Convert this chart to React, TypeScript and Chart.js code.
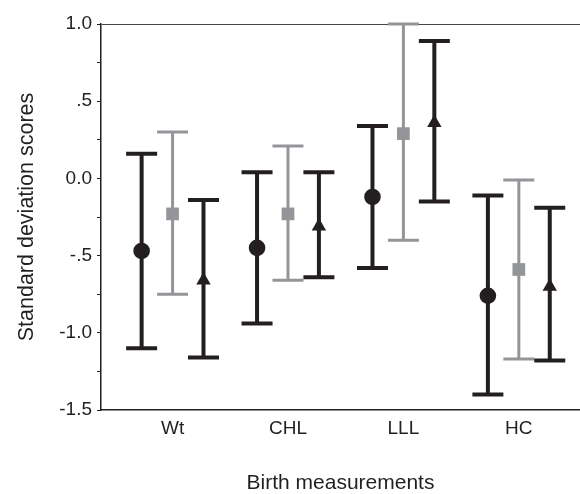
import React, { useEffect, useRef } from 'react';
import { Chart, registerables } from 'chart.js';

Chart.register(...registerables);

const categories = ['Wt', 'CHL', 'LLL', 'HC'];

const yTickValues = [1, 0.5, 0, -0.5, -1, -1.5];
const yTickLabels = ['1.0', '.5', '0.0', '-.5', '-1.0', '-1.5'];

// Series 1: black circles
const circleMean = [-0.47, -0.45, -0.12, -0.76];
const circleLow = [-1.1, -0.94, -0.58, -1.4];
const circleHigh = [0.16, 0.04, 0.34, -0.11];

// Series 2: grey squares
const squareMean = [-0.23, -0.23, 0.29, -0.59];
const squareLow = [-0.75, -0.66, -0.4, -1.17];
const squareHigh = [0.3, 0.21, 1.0, -0.01];

// Series 3: black triangles
const triangleMean = [-0.66, -0.31, 0.36, -0.7];
const triangleLow = [-1.16, -0.64, -0.15, -1.18];
const triangleHigh = [-0.14, 0.04, 0.89, -0.19];

const BLACK = '#231f20';
const GREY = '#939598';
const FONT = '"Liberation Sans", Arial, Helvetica, sans-serif';
const OFFSET = 0.268;

type Series = {
  mean: number[];
  low: number[];
  high: number[];
  offset: number;
  color: string;
  style: string;
  radius: number;
  width: number;
};

const series: Series[] = [
  { mean: circleMean, low: circleLow, high: circleHigh, offset: -OFFSET, color: BLACK, style: 'circle', radius: 8.3, width: 4 },
  { mean: squareMean, low: squareLow, high: squareHigh, offset: 0, color: GREY, style: 'rect', radius: 9, width: 3 },
  { mean: triangleMean, low: triangleLow, high: triangleHigh, offset: OFFSET, color: BLACK, style: 'triangle', radius: 8.3, width: 4 },
];

const errorBarPlugin = {
  id: 'errorBars',
  beforeDatasetsDraw(chart: any) {
    const { ctx, scales } = chart;
    const xs = scales.x;
    const ys = scales.y;
    ctx.save();
    series.forEach((s) => {
      ctx.strokeStyle = s.color;
      ctx.lineCap = 'butt';
      s.mean.forEach((_, i) => {
        const px = xs.getPixelForValue(i + 1 + s.offset);
        const pLow = ys.getPixelForValue(s.low[i]);
        const pHigh = ys.getPixelForValue(s.high[i]);
        ctx.lineWidth = s.width;
        ctx.beginPath();
        ctx.moveTo(px, pLow);
        ctx.lineTo(px, pHigh);
        ctx.stroke();
        const half = 15.5;
        ctx.beginPath();
        ctx.moveTo(px - half, pLow);
        ctx.lineTo(px + half, pLow);
        ctx.moveTo(px - half, pHigh);
        ctx.lineTo(px + half, pHigh);
        ctx.stroke();
      });
    });
    ctx.restore();
  },
};

export default function App() {
  const canvasRef = useRef<HTMLCanvasElement | null>(null);

  useEffect(() => {
    document.body.style.margin = '0';
    const canvas = canvasRef.current;
    if (!canvas) return;
    const chart = new Chart(canvas, {
      type: 'scatter',
      data: {
        datasets: series.map((s) => ({
          data: s.mean.map((m, i) => ({ x: i + 1 + s.offset, y: m })),
          pointStyle: s.style as any,
          pointRadius: s.radius,
          backgroundColor: s.color,
          borderColor: s.color,
          borderWidth: 0,
          showLine: false,
          clip: false as any,
        })),
      },
      options: {
        responsive: false,
        animation: false,
        events: [],
        layout: { autoPadding: false, padding: { top: 24, right: 0, left: 0, bottom: 0 } },
        plugins: { legend: { display: false }, tooltip: { enabled: false } },
        scales: {
          x: {
            type: 'linear',
            min: 0.38,
            max: 4.53,
            afterBuildTicks: (scale: any) => {
              scale.ticks = categories.map((_, i) => ({ value: i + 1 }));
            },
            afterFit: (scale: any) => {
              scale.height = 84;
              scale.paddingRight = 0;
              scale.paddingLeft = 0;
            },
            grid: { display: false, drawTicks: false },
            border: { display: true, color: BLACK, width: 1.5 },
            ticks: {
              autoSkip: false,
              maxRotation: 0,
              padding: 7,
              color: BLACK,
              font: { family: FONT, size: 19 },
              callback: (v: any) => categories[Number(v) - 1] ?? '',
            },
            title: {
              display: true,
              text: 'Birth measurements',
              color: BLACK,
              font: { family: FONT, size: 21, lineHeight: 1 },
              padding: { top: 0, bottom: 0 },
            },
          },
          y: {
            type: 'linear',
            min: -1.5,
            max: 1,
            afterFit: (scale: any) => {
              scale.width = 101;
            },
            grid: {
              drawOnChartArea: true,
              drawTicks: true,
              tickLength: 4,
              tickColor: BLACK,
              lineWidth: 1,
              color: (c: any) => (c.tick && c.tick.value === yTickValues[0] ? '#444' : 'rgba(0,0,0,0)'),
            },
            border: { display: true, color: BLACK, width: 1.5 },
            ticks: {
              stepSize: 0.25,
              padding: 5,
              color: BLACK,
              font: { family: FONT, size: 19 },
              callback: (v: any) => {
                const idx = yTickValues.findIndex((t) => Math.abs(t - Number(v)) < 1e-6);
                return idx >= 0 ? yTickLabels[idx] : '';
              },
            },
            title: {
              display: true,
              text: 'Standard deviation scores',
              color: BLACK,
              font: { family: FONT, size: 21.5, lineHeight: 1 },
              padding: { top: 16, bottom: 0 },
            },
          },
        },
      },
      plugins: [errorBarPlugin],
    });
    return () => chart.destroy();
  }, []);

  return (
    <div style={{ width: 580, height: 494 }}>
      <canvas ref={canvasRef} width={580} height={494} style={{ display: 'block' }} />
    </div>
  );
}
